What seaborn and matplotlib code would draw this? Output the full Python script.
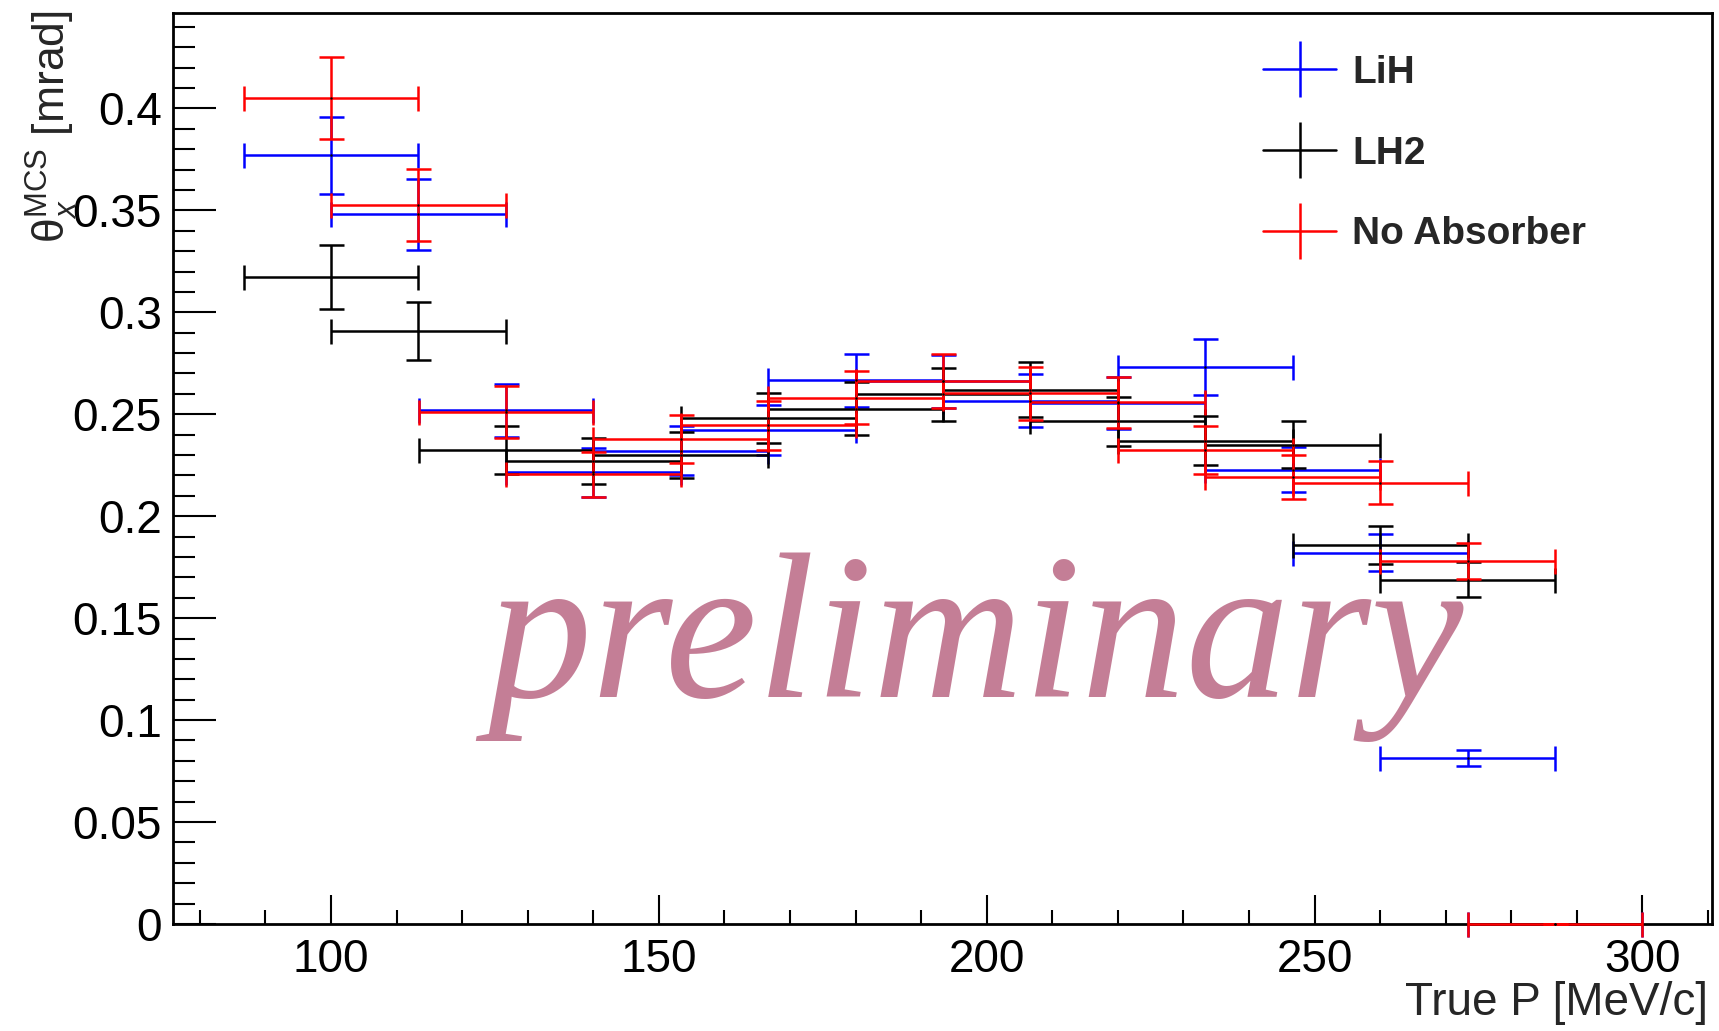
import numpy as np
import pandas as pd
import matplotlib
matplotlib.use("Agg")
import matplotlib.pyplot as plt
import seaborn as sns
from matplotlib.lines import Line2D
from matplotlib.ticker import MultipleLocator, FuncFormatter

# ---------------- data ----------------
momentum = [100.0, 113.33, 126.67, 140.0, 153.33, 166.67, 180.0, 193.33,
            206.67, 220.0, 233.33, 246.67, 260.0, 273.33, 286.67]
bin_half_width = 13.33

lih_theta = [0.377, 0.348, 0.252, 0.2215, 0.2322, 0.2424, 0.2666, 0.2663,
             0.2567, 0.2554, 0.2733, 0.2228, 0.1821, 0.0814, 0.0]
lih_err = [0.019, 0.0172, 0.013, 0.012, 0.0118, 0.0122, 0.0131, 0.013,
           0.013, 0.0128, 0.0137, 0.0109, 0.0092, 0.004, 0.0]

lh2_momentum = momentum[:14]
lh2_theta = [0.3173, 0.2909, 0.2325, 0.2272, 0.2301, 0.2481, 0.2528, 0.2599,
             0.2621, 0.2465, 0.237, 0.235, 0.1858, 0.1688]
lh2_err = [0.0157, 0.0144, 0.0117, 0.0113, 0.0114, 0.0124, 0.013, 0.013,
           0.0133, 0.0122, 0.012, 0.0116, 0.0092, 0.0085]

noabs_theta = [0.405, 0.3527, 0.251, 0.2205, 0.238, 0.2445, 0.2582, 0.2663,
               0.2604, 0.2558, 0.2326, 0.2193, 0.2165, 0.1781, 0.0]
noabs_err = [0.020, 0.0177, 0.0127, 0.011, 0.0118, 0.0122, 0.013, 0.0134,
             0.013, 0.0127, 0.0117, 0.0109, 0.0106, 0.009, 0.0]

series_names = ["LiH", "LH2", "No Absorber"]
series_colors = ["#0000FF", "#000000", "#FF0000"]

frames = [
    pd.DataFrame({"p": momentum, "theta": lih_theta, "err": lih_err, "series": "LiH"}),
    pd.DataFrame({"p": lh2_momentum, "theta": lh2_theta, "err": lh2_err, "series": "LH2"}),
    pd.DataFrame({"p": momentum, "theta": noabs_theta, "err": noabs_err, "series": "No Absorber"}),
]
data = pd.concat(frames, ignore_index=True)

# ---------------- style ----------------
sns.set_theme(style="ticks")
plt.rcParams["font.family"] = ["Liberation Sans", "DejaVu Sans"]
plt.rcParams["mathtext.fontset"] = "custom"
plt.rcParams["mathtext.rm"] = "Liberation Sans"
plt.rcParams["mathtext.it"] = "Liberation Sans:italic"
plt.rcParams["mathtext.bf"] = "Liberation Sans:bold"

W, H = 1719, 1031
fig = plt.figure(figsize=(W / 100, H / 100), dpi=100)
ax = fig.add_axes([173 / W, 1 - 924 / H, (1712 - 173) / W, (924 - 13) / H])
ax.set_facecolor("white")

# watermark behind data
ax.text(975 / W, 1 - 697 / H, "preliminary", transform=fig.transFigure,
        fontsize=150, family="Liberation Serif", style="italic",
        color="#C47E96", ha="center", va="baseline", zorder=0.5)

palette = dict(zip(series_names, series_colors))
for i, name in enumerate(series_names):
    d = data[data["series"] == name]
    ax.errorbar(d["p"], d["theta"], xerr=bin_half_width, yerr=d["err"],
                fmt="none", ecolor=palette[name], elinewidth=1.8,
                capsize=9, capthick=1.8, clip_on=False, zorder=2 + i)

sns.scatterplot(data=data, x="p", y="theta", color="black", s=3,
                marker="o", linewidth=0, legend=False, ax=ax, zorder=6,
                clip_on=False)

ax.set_xlim(75.9, 310.6)
ax.set_ylim(0, 0.4468)
ax.set_xlabel("")
ax.set_ylabel("")

ax.xaxis.set_major_locator(MultipleLocator(50))
ax.xaxis.set_minor_locator(MultipleLocator(10))
ax.yaxis.set_major_locator(MultipleLocator(0.05))
ax.yaxis.set_minor_locator(MultipleLocator(0.01))
fmt = FuncFormatter(lambda v, pos: "%g" % round(v, 4))
ax.xaxis.set_major_formatter(fmt)
ax.yaxis.set_major_formatter(fmt)

for s in ax.spines.values():
    s.set_linewidth(2.0)
    s.set_color("black")

ax.tick_params(axis="both", which="both", direction="in", top=False,
               right=False, width=1.5, color="black", labelsize=33,
               labelcolor="black")
ax.tick_params(axis="x", which="major", length=21, pad=10)
ax.tick_params(axis="x", which="minor", length=10)
ax.tick_params(axis="y", which="major", length=31, pad=8)
ax.tick_params(axis="y", which="minor", length=16)

# axis titles (ROOT style: aligned to the axis ends)
fig.text(1708 / W, 1 - 1015 / H, "True P [MeV/c]", fontsize=33,
         ha="right", va="baseline")
fig.text(52 / W, 1 - 10 / H, r"θ$_{x}^{\mathrm{MCS}}$ [mrad]", fontsize=32,
         rotation=90, ha="center", va="top")

# legend with cross-shaped handles
handles = []
for name in series_names:
    c = palette[name]
    handles.append((Line2D([], [], color=c, lw=1.8),
                    Line2D([], [], color=c, marker="|", markersize=40,
                           markeredgewidth=1.8, linestyle="none")))
leg = ax.legend(handles, series_names, loc="upper left",
                bbox_to_anchor=(1263 / W, 1 - 55 / H),
                bbox_transform=fig.transFigure, frameon=False,
                prop={"weight": "bold", "size": 28}, borderpad=0,
                borderaxespad=0, handlelength=1.88, handletextpad=0.41,
                labelspacing=1.15)

fig.savefig("out.png", dpi=100, facecolor="white")
